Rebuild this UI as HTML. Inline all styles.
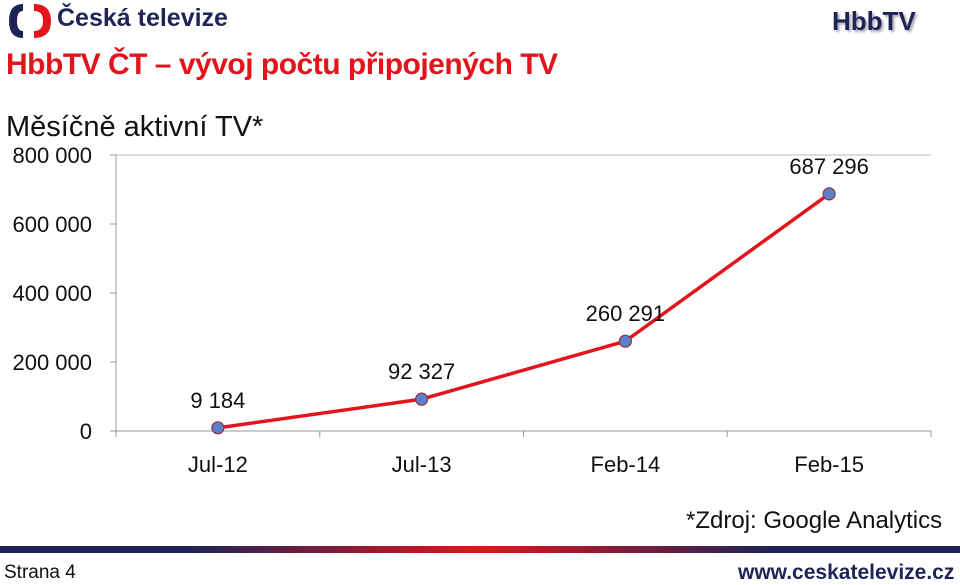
<!DOCTYPE html>
<html><head><meta charset="utf-8"><style>
body{margin:0;width:960px;height:585px;background:#fff;overflow:hidden;position:relative;font-family:"Liberation Sans",sans-serif}
.abs{position:absolute;white-space:nowrap}
</style></head><body>
<div class="abs" style="left:6px;top:2px;">
 <svg width="48" height="38"><path d="M17 2 Q3 2 3 19 Q3 36 17 36 L17 29 Q11 29 11 19 Q11 9 17 9Z" fill="#1f2456"/><path d="M28 2 Q45 2 45 19 Q45 36 28 36 L28 29 Q37 29 37 19 Q37 9 28 9Z" fill="#e3141b"/></svg>
</div>
<div class="abs" style="left:57px;top:4px;font-size:25px;font-weight:bold;color:#1f2456">Česká televize</div>
<div class="abs" style="left:832px;top:6px;font-size:26px;font-weight:bold;color:#1f2456;text-shadow:2px 2px 2px #aab">HbbTV</div>
<div class="abs" style="left:6px;top:48px;font-size:30px;font-weight:bold;color:#e3141b;letter-spacing:-0.5px">HbbTV ČT – vývoj počtu připojených TV</div>
<div class="abs" style="left:6px;top:111px;font-size:29px;color:#111">Měsíčně aktivní TV*</div>
<svg id="c" width="960" height="585" style="position:absolute;left:0;top:0"></svg>
<div class="abs" style="left:686px;top:507px;font-size:24px;color:#111">*Zdroj: Google Analytics</div>
<div class="abs" style="left:0;top:546px;width:960px;height:7px;background:linear-gradient(90deg,#1f2456 0%,#1f2456 20%,#e3141b 50%,#1f2456 80%,#1f2456 100%)"></div>
<div class="abs" style="left:4px;top:562px;font-size:19px;color:#111">Strana 4</div>
<div class="abs" style="left:738px;top:561px;font-size:21px;font-weight:bold;color:#1f2456">www.ceskatelevize.cz</div>
<script>
const categories=["Jul-12","Jul-13","Feb-14","Feb-15"];
const values=[9184,92327,260291,687296];
const valueLabels=["9 184","92 327","260 291","687 296"];
const yTicks=[0,200000,400000,600000,800000];
const yTickLabels=["0","200 000","400 000","600 000","800 000"];
const svg=document.getElementById('c');const NS="http://www.w3.org/2000/svg";
const x0=116,x1=931,y0=431,y1=155,yMax=800000;
const bw=(x1-x0)/categories.length;
const xs=i=>x0+bw*(i+0.5);
const ys=v=>y0-(v/yMax)*(y0-y1);
function mk(t,a,txt){const e=document.createElementNS(NS,t);for(const k in a)e.setAttribute(k,a[k]);if(txt!=null)e.textContent=txt;svg.appendChild(e);return e;}
let g=mk('line',{x1:x0,y1:y1,x2:x1,y2:y1,stroke:'#bbb','stroke-width':1});


let ax=mk('line',{x1:x0,y1:y1,x2:x0,y2:y0,stroke:'#999'});


let bx=mk('line',{x1:x0,y1:y0,x2:x1,y2:y0,stroke:'#999'});


yTicks.forEach((v,i)=>{
 let tk=mk('line',{x1:x0-6,y1:ys(v),x2:x0,y2:ys(v),stroke:'#999'});
 
 
 let t=mk('text',{x:x0-24,y:ys(v)+8,'text-anchor':'end','font-size':22,fill:'#111','font-family':'Liberation Sans,sans-serif'},yTickLabels[i]);
 
 
});
for(let i=0;i<=categories.length;i++){
 let tk=mk('line',{x1:x0+bw*i,y1:y0,x2:x0+bw*i,y2:y0+6,stroke:'#999'});
 
 
}
categories.forEach((c,i)=>{
 let t=mk('text',{x:xs(i),y:472,'text-anchor':'middle','font-size':22,fill:'#111','font-family':'Liberation Sans,sans-serif'},c);
 
 
});
let line=mk('polyline',{points:values.map((v,i)=>xs(i)+','+ys(v)).join(' '),fill:'none',stroke:'#e3141b','stroke-width':3.5});


values.forEach((v,i)=>{
 let p=mk('circle',{cx:xs(i),cy:ys(v),r:6,fill:'#5b7fc8',stroke:'#9a3040','stroke-width':1.2});
 
 
 let t=mk('text',{x:xs(i),y:ys(v)-20,'text-anchor':'middle','font-size':22,fill:'#111','font-family':'Liberation Sans,sans-serif'},valueLabels[i]);
 
 
});
</script>
</body></html>
